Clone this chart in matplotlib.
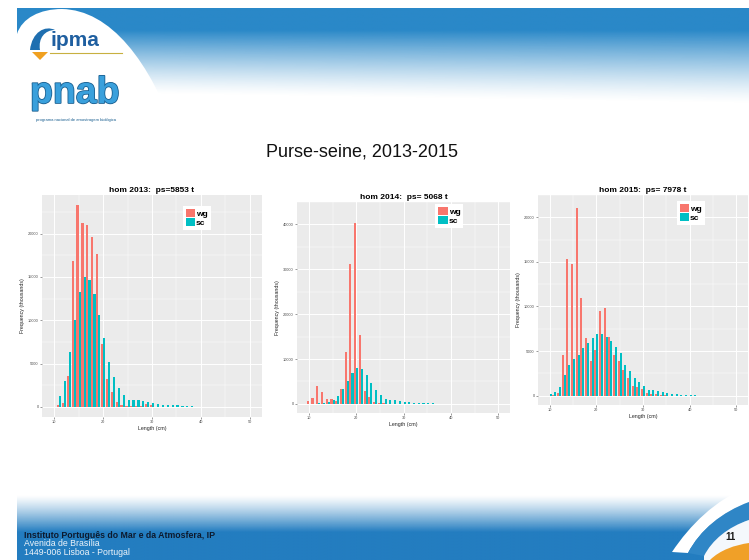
import numpy as np
import matplotlib
matplotlib.use('Agg')
import matplotlib.pyplot as plt
from matplotlib.patches import Patch, PathPatch
from matplotlib.path import Path
import matplotlib.patheffects as pe

plt.rcParams['font.family'] = ['Liberation Sans', 'DejaVu Sans']

# ---------------- data ----------------
slide_title = "Purse-seine, 2013-2015"
panel_titles = ["hom 2013:  ps=5853 t", "hom 2014:  ps= 5068 t", "hom 2015:  ps= 7978 t"]
series_names = ["wg", "sc"]
x_label = "Length (cm)"
y_label = "Frequency (thousands)"
x_ticks = [10, 20, 30, 40, 50]

len_2013 = list(range(11, 39))
wg_2013 = [270, 400, 3540, 16800, 23300, 21200, 21050, 19600, 17700, 7270,
           3190, 1750, 580, 270, 100, 80, 60, 50, 300, 250,
           0, 0, 0, 0, 0, 0, 0, 0]
sc_2013 = [1280, 3030, 6330, 10000, 13300, 15000, 14650, 13000, 10570, 7900,
           5170, 3500, 2140, 1360, 850, 780, 780, 700, 580, 470,
           350, 270, 200, 200, 200, 150, 120, 100]
yticks_2013 = [0, 5000, 10000, 15000, 20000]

len_2014 = list(range(10, 37))
wg_2014 = [560, 1390, 3960, 2570, 1180, 1180, 700, 3260, 11600, 31250,
           40400, 15400, 2780, 1530, 490, 200, 280, 0, 0, 0,
           0, 0, 0, 0, 0, 0, 0]
sc_2014 = [0, 0, 100, 140, 350, 970, 1800, 3260, 5140, 6940,
           7900, 7780, 6390, 4720, 3125, 2010, 1180, 830, 830, 625,
           490, 420, 280, 210, 140, 140, 100]
yticks_2014 = [0, 10000, 20000, 30000, 40000]

len_2015 = list(range(10, 42))
wg_2015 = [0, 100, 290, 4560, 15330, 14780, 21060, 10950, 6460, 3900,
           5110, 9490, 9780, 6570, 4560, 3900, 2920, 2010, 1100, 910,
           730, 300, 200, 150, 100, 80, 0, 0, 0, 0,
           0, 0]
sc_2015 = [180, 440, 910, 2300, 3390, 4120, 4560, 5290, 5950, 6500,
           6930, 6930, 6570, 6100, 5470, 4740, 3470, 2740, 2010, 1570,
           1100, 660, 620, 470, 360, 290, 220, 150, 110, 80,
           70, 70]
yticks_2015 = [0, 5000, 10000, 15000, 20000]

footer_lines = ["Instituto Português do Mar e da Atmosfera, IP",
                "Avenida de Brasília",
                "1449-006 Lisboa - Portugal"]
page_number = "11"

RED = '#F8766D'
TEAL = '#00BFC4'
W, H = 749, 560

fig = plt.figure(figsize=(W / 100, H / 100), dpi=100)
fig.patch.set_facecolor('white')

# ---------------- slide background ----------------
bg = fig.add_axes([0, 0, 1, 1])
bg.set_xlim(0, W)
bg.set_ylim(H, 0)
bg.axis('off')

blue = np.array([42, 136, 200]) / 255.0
# header gradient
xs = np.linspace(17, W, 400)
ys = np.linspace(8, 120, 160)
X, Y = np.meshgrid(xs, ys)
e = 92 + 12 * (X / W)
s = 30.0
a = np.clip((e - Y) / (e - s), 0, 1) ** 1.3
img = np.ones(X.shape + (4,))
img[..., :3] = blue
img[..., 3] = a
bg.imshow(img, extent=[17, W, 120, 8], aspect='auto', interpolation='bilinear', zorder=1)

# left white swoosh (logo area)
verts = [(17, 140), (17, 34),
         (22, 18), (40, 9), (62, 9),
         (110, 10), (150, 60), (178, 140),
         (17, 140)]
codes = [Path.MOVETO, Path.LINETO,
         Path.CURVE4, Path.CURVE4, Path.CURVE4,
         Path.CURVE4, Path.CURVE4, Path.CURVE4,
         Path.CLOSEPOLY]
bg.add_patch(PathPatch(Path(verts, codes), facecolor='white', edgecolor='none', zorder=2))

# ipma logo
bg.text(50, 41, "ipma", fontsize=15, color='#1f5fa0', fontweight='bold',
        ha='left', va='center', zorder=3)
verts = [(30, 50), (32, 32), (45, 25), (55, 30), (45, 30), (38, 38), (40, 50), (30, 50)]
codes = [Path.MOVETO, Path.CURVE4, Path.CURVE4, Path.CURVE4,
         Path.CURVE4, Path.CURVE4, Path.CURVE4, Path.CLOSEPOLY]
bg.add_patch(PathPatch(Path(verts, codes), facecolor='#1f6fb0', edgecolor='none', zorder=3))
bg.add_patch(PathPatch(Path([(32, 52), (48, 52), (40, 60), (32, 52)],
                            [Path.MOVETO, Path.LINETO, Path.LINETO, Path.CLOSEPOLY]),
                       facecolor='#f0a020', edgecolor='none', zorder=3))
bg.plot([50, 122], [53, 53], color='#c8b040', lw=0.8, zorder=3)

# pnab logo
bg.text(30, 93, "pnab", fontsize=27, color='#3aa0dc', fontweight='bold',
        ha='left', va='center', zorder=3,
        path_effects=[pe.withStroke(linewidth=1.2, foreground='#1a5f90')])
bg.text(36, 120, "programa nacional de amostragem biológica", fontsize=3,
        color='#1a5f90', ha='left', va='center', zorder=3)

# footer gradient
fblue = np.array([35, 125, 192]) / 255.0
ys2 = np.linspace(470, H, 120)
xs2 = np.linspace(17, W, 400)
X2, Y2 = np.meshgrid(xs2, ys2)
a2 = np.clip((Y2 - 495) / (532 - 495), 0, 1) ** 1.2
img2 = np.ones(X2.shape + (4,))
img2[..., :3] = fblue
img2[..., 3] = a2
bg.imshow(img2, extent=[17, W, H, 470], aspect='auto', interpolation='bilinear', zorder=1)

# bottom-right swoosh: white crescent, blue crescent, pale corner, orange corner
verts = [(672, 552), (690, 525), (715, 500), (749, 486),
         (749, 502), (722, 512), (700, 530), (688, 553), (672, 552)]
codes = [Path.MOVETO, Path.CURVE4, Path.CURVE4, Path.CURVE4,
         Path.LINETO, Path.CURVE4, Path.CURVE4, Path.CURVE4, Path.CLOSEPOLY]
bg.add_patch(PathPatch(Path(verts, codes), facecolor='white', edgecolor='none', zorder=2))
verts = [(688, 553), (700, 530), (722, 512), (749, 502),
         (749, 520), (728, 527), (712, 540), (704, 556), (688, 553)]
bg.add_patch(PathPatch(Path(verts, codes), facecolor='#2f86c6', edgecolor='none', zorder=2))
verts = [(704, 556), (712, 540), (728, 527), (749, 520),
         (749, 560), (740, 560), (720, 560), (704, 560), (704, 556)]
bg.add_patch(PathPatch(Path(verts, codes), facecolor='#f4f8fc', edgecolor='none', zorder=2))
verts2 = [(710, 560), (720, 550), (735, 545), (749, 543), (749, 560), (710, 560)]
codes2 = [Path.MOVETO, Path.CURVE4, Path.CURVE4, Path.CURVE4, Path.LINETO, Path.CLOSEPOLY]
bg.add_patch(PathPatch(Path(verts2, codes2), facecolor='#f0a028', edgecolor='none', zorder=3))
bg.text(730, 537, page_number, fontsize=7, fontweight='bold', color='#1a1a1a',
        ha='center', va='center', zorder=4)

# footer text
bg.text(24, 535, footer_lines[0], fontsize=6.3, fontweight='bold', color='#0d1a2e',
        ha='left', va='center', zorder=4)
bg.text(24, 544, footer_lines[1], fontsize=6.3, color='#eef4fa', ha='left', va='center', zorder=4)
bg.text(24, 552.5, footer_lines[2], fontsize=6.3, color='#eef4fa', ha='left', va='center', zorder=4)

# slide title
bg.text(362, 152, slide_title, fontsize=13, color='#111111', ha='center', va='center', zorder=4)


# ---------------- chart panels ----------------
def draw_panel(px_rect, lengths, wg, sc, yticks, title, leg_anchor):
    l, t, r, b = px_rect
    ax = fig.add_axes([l / W, (H - b) / H, (r - l) / W, (b - t) / H])
    ax.set_facecolor('#EBEBEB')
    x = np.array(lengths, float)
    ax.bar(x - 0.225, wg, width=0.45, color=RED, linewidth=0, zorder=3)
    ax.bar(x + 0.225, sc, width=0.45, color=TEAL, linewidth=0, zorder=3)
    ymax = max(max(wg), max(sc))
    ax.set_xlim(7.5, 52.5)
    ax.set_ylim(-0.05 * ymax, 1.05 * ymax)
    ax.set_xticks(x_ticks)
    ax.set_xticks([15, 25, 35, 45], minor=True)
    ax.set_yticks(yticks)
    step = yticks[1] - yticks[0]
    ax.set_yticks([v + step / 2 for v in yticks], minor=True)
    ax.set_xticklabels([str(v) for v in x_ticks])
    ax.set_yticklabels([str(v) for v in yticks])
    ax.grid(which='major', color='white', lw=0.7)
    ax.grid(which='minor', color='white', lw=0.35)
    ax.set_axisbelow(True)
    for sp in ax.spines.values():
        sp.set_visible(False)
    ax.tick_params(which='major', labelsize=2.8, colors='#4D4D4D', length=1.5, width=0.4, pad=1)
    ax.tick_params(which='minor', length=0)
    ax.set_xlabel(x_label, fontsize=3.8, labelpad=1, color='#222222')
    ax.set_ylabel(y_label, fontsize=3.8, labelpad=2, color='#222222')
    ax.set_title(title, fontsize=6, fontweight='bold', pad=2)
    handles = [Patch(facecolor=RED, label=series_names[0]),
               Patch(facecolor=TEAL, label=series_names[1])]
    leg = ax.legend(handles=handles, loc='upper left', bbox_to_anchor=leg_anchor,
                    fontsize=6, frameon=True, fancybox=False, framealpha=1,
                    handlelength=1.1, handleheight=1.1, handletextpad=0.15,
                    borderpad=0.35, labelspacing=0.05, borderaxespad=0)
    leg.get_frame().set_facecolor('white')
    leg.get_frame().set_edgecolor('none')
    for txt in leg.get_texts():
        txt.set_fontweight('bold')
    return ax


draw_panel((42, 195, 262, 417), len_2013, wg_2013, sc_2013, yticks_2013,
           panel_titles[0], (0.64, 0.95))
draw_panel((297, 202, 510, 413), len_2014, wg_2014, sc_2014, yticks_2014,
           panel_titles[1], (0.65, 0.99))
draw_panel((538, 195, 748, 405), len_2015, wg_2015, sc_2015, yticks_2015,
           panel_titles[2], (0.66, 0.97))

fig.savefig('out.png', dpi=100, facecolor='white')
